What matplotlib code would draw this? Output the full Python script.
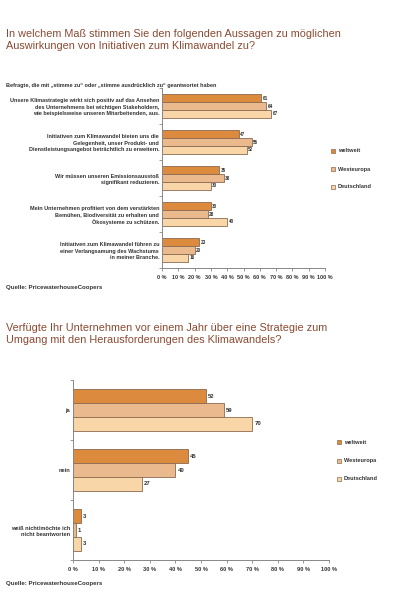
import matplotlib
matplotlib.use("Agg")
import matplotlib.pyplot as plt
import numpy as np

plt.rcParams['font.family'] = ['Liberation Sans', 'DejaVu Sans']

series = ["weltweit", "Westeuropa", "Deutschland"]
colors = ["#DB8A3E", "#EBB98E", "#F9D6A8"]
edge = "#8C6A50"
title_color = "#8A4A32"

top_title = "In welchem Maß stimmen Sie den folgenden Aussagen zu möglichen\nAuswirkungen von Initiativen zum Klimawandel zu?"
top_subtitle = "Befragte, die mit „stimme zu“ oder „stimme ausdrücklich zu“ geantwortet haben"
top_categories = [
    "Unsere Klimastrategie wirkt sich positiv auf das Ansehen\ndes Unternehmens bei wichtigen Stakeholdern,\nwie beispielsweise unseren Mitarbeitenden, aus.",
    "Initiativen zum Klimawandel bieten uns die\nGelegenheit, unser Produkt- und\nDienstleistungsangebot beträchtlich zu erweitern.",
    "Wir müssen unseren Emissionsausstoß\nsignifikant reduzieren.",
    "Mein Unternehmen profitiert von dem verstärkten\nBemühen, Biodiversität zu erhalten und\nÖkosysteme zu schützen.",
    "Initiativen zum Klimawandel führen zu\neiner Verlangsamung des Wachstums\nin meiner Branche.",
]
top_weltweit = [61, 47, 35, 30, 23]
top_westeuropa = [64, 55, 38, 28, 20]
top_deutschland = [67, 52, 30, 40, 16]

bot_title = "Verfügte Ihr Unternehmen vor einem Jahr über eine Strategie zum\nUmgang mit den Herausforderungen des Klimawandels?"
bot_categories = ["ja", "nein", "weiß nicht/möchte ich\nnicht beantworten"]
bot_weltweit = [52, 45, 3]
bot_westeuropa = [59, 40, 1]
bot_deutschland = [70, 27, 3]

xticks = list(range(0, 101, 10))
xticklabels = [f"{v} %" for v in xticks]
source = "Quelle: PricewaterhouseCoopers"

W, H = 408, 600
fig = plt.figure(figsize=(W / 100, H / 100), dpi=100)
fig.patch.set_facecolor("white")


def draw(ax, cats, vals, bar_h, fs_cat, fs_val, fs_tick):
    n = len(cats)
    y = np.arange(n)
    for i, (v, c) in enumerate(zip(vals, colors)):
        pos = y + (i - 1) * bar_h
        ax.barh(pos, v, height=bar_h, color=c, edgecolor=edge, linewidth=0.6)
        for p, val in zip(pos, v):
            ax.text(val + 0.8, p, str(val), va="center", ha="left",
                    fontsize=fs_val, fontweight="bold", color="#333333")
    ax.set_ylim(n - 0.5, -0.5)
    ax.set_xlim(0, 100)
    ax.set_yticks(y)
    ax.set_yticklabels(cats, fontsize=fs_cat, fontweight="bold", color="#333333",
                       linespacing=1.4)
    ax.set_yticks(np.arange(n + 1) - 0.5, minor=True)
    ax.tick_params(axis="y", which="major", length=0, pad=2)
    ax.tick_params(axis="y", which="minor", length=2, color="#888888", width=0.6)
    ax.set_xticks(xticks)
    ax.set_xticklabels(xticklabels, fontsize=fs_tick, fontweight="bold", color="#333333")
    ax.tick_params(axis="x", length=2, color="#888888", width=0.6, pad=3)
    for s in ["top", "right"]:
        ax.spines[s].set_visible(False)
    for s in ["left", "bottom"]:
        ax.spines[s].set_color("#888888")
        ax.spines[s].set_linewidth(0.7)


def legend(x, y0, dy, fs):
    for i, (name, c) in enumerate(zip(series, colors)):
        yy = y0 + i * dy
        fig.patches.append(plt.Rectangle(((x - 2) / W, 1 - (yy + 2) / H), 4 / W, 4 / H,
                                         transform=fig.transFigure, facecolor=c,
                                         edgecolor=edge, linewidth=0.5))
        fig.text((x + 5) / W, 1 - yy / H, name, fontsize=fs, fontweight="bold",
                 color="#333333", va="center", ha="left")


# Top chart
fig.text(6 / W, 1 - 40 / H, top_title, fontsize=7.8, color=title_color,
         va="center", ha="left", linespacing=1.35)
fig.text(6 / W, 1 - 85 / H, top_subtitle, fontsize=4.0, fontweight="bold",
         color="#333333", va="center", ha="left")
ax1 = fig.add_axes([162 / W, 1 - 268 / H, 163 / W, 180 / H])
draw(ax1, top_categories, [top_weltweit, top_westeuropa, top_deutschland],
     0.215, 4.0, 3.3, 4.0)
legend(333, 151, 18, 4.1)
fig.text(6 / W, 1 - 288 / H, source, fontsize=4.45, fontweight="bold",
         color="#333333", va="center", ha="left")

# Bottom chart
fig.text(6 / W, 1 - 334 / H, bot_title, fontsize=7.8, color=title_color,
         va="center", ha="left", linespacing=1.35)
ax2 = fig.add_axes([73 / W, 1 - 560 / H, 256 / W, 180 / H])
draw(ax2, bot_categories, [bot_weltweit, bot_westeuropa, bot_deutschland],
     0.228, 4.1, 4.3, 4.1)
legend(339, 442, 18.5, 4.1)
fig.text(6 / W, 1 - 583 / H, source, fontsize=4.45, fontweight="bold",
         color="#333333", va="center", ha="left")

fig.savefig("out.png", dpi=100, facecolor="white")
